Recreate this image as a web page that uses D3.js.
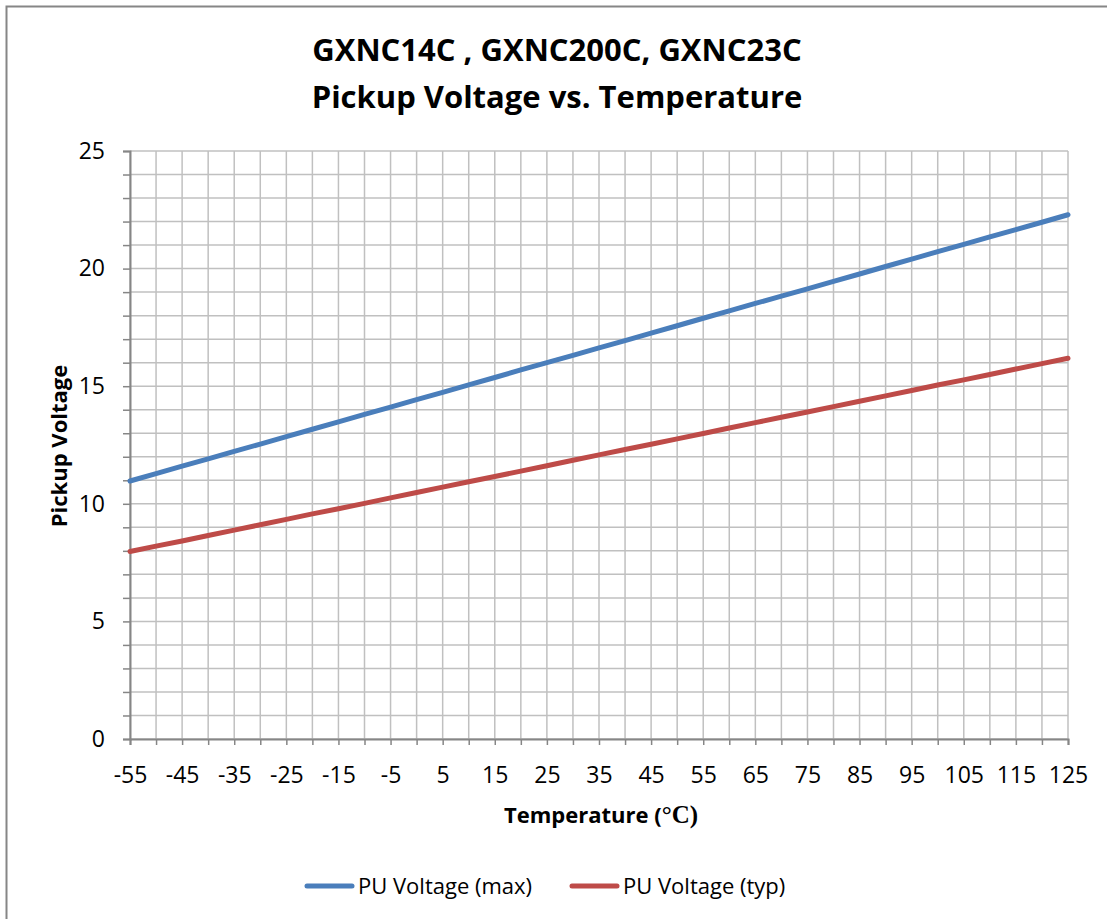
<!DOCTYPE html>
<html>
<head>
<meta charset="utf-8">
<script src="https://cdn.jsdelivr.net/npm/d3@7"></script>
<style>
html,body{margin:0;padding:0;background:#fff;}
svg{display:block;}
</style>
</head>
<body>
<svg id="chart" width="1107" height="919"></svg>
<script>
// ---- data ----
const temperatures = [-55,-50,-45,-40,-35,-30,-25,-20,-15,-10,-5,0,5,10,15,20,25,30,35,40,45,50,55,60,65,70,75,80,85,90,95,100,105,110,115,120,125];
const puMax = [10.97,11.28,11.60,11.91,12.23,12.54,12.86,13.17,13.48,13.80,14.11,14.43,14.74,15.06,15.37,15.69,16.00,16.31,16.63,16.94,17.26,17.57,17.89,18.20,18.52,18.83,19.14,19.46,19.77,20.09,20.40,20.72,21.03,21.35,21.66,21.97,22.29];
const puTyp = [7.97,8.20,8.42,8.65,8.88,9.11,9.34,9.57,9.79,10.02,10.25,10.48,10.71,10.94,11.16,11.39,11.62,11.85,12.08,12.31,12.53,12.76,12.99,13.22,13.45,13.68,13.90,14.13,14.36,14.59,14.82,15.05,15.27,15.50,15.73,15.96,16.19];
const yTickValues = [0,5,10,15,20,25];
const yMinorValues = [0,1,2,3,4,5,6,7,8,9,10,11,12,13,14,15,16,17,18,19,20,21,22,23,24,25];
const xLabelValues = [-55,-45,-35,-25,-15,-5,5,15,25,35,45,55,65,75,85,95,105,115,125];
const seriesNames = ["PU Voltage (max)","PU Voltage (typ)"];
const seriesColors = ["#4A7EBB","#BE4B48"];
const titleLines = ["GXNC14C , GXNC200C, GXNC23C","Pickup Voltage vs. Temperature"];

// ---- layout ----
const svg = d3.select("#chart");
const font = "'Open Sans', sans-serif";
const L = 130, R = 1068, T = 151, B = 739;

svg.append("rect").attr("x",6.5).attr("y",6.5).attr("width",1200).attr("height",1000)
  .attr("fill","#fff").attr("stroke","#868686").attr("stroke-width",2);

const x = d3.scaleLinear().domain([-55,125]).range([L,R]);
const y = d3.scaleLinear().domain([0,25]).range([B,T]);

// gridlines
const grid = svg.append("g");
grid.selectAll("line.h").data(yMinorValues).join("line")
  .attr("x1",L).attr("x2",R).attr("y1",d=>y(d)).attr("y2",d=>y(d))
  .attr("stroke","#C0C0C0").attr("stroke-width",1.5);
grid.selectAll("line.v").data(temperatures).join("line")
  .attr("x1",d=>x(d)).attr("x2",d=>x(d)).attr("y1",T).attr("y2",B)
  .attr("stroke","#C0C0C0").attr("stroke-width",1.5);

// y axis
const yAxis = svg.append("g").attr("transform",`translate(${L},0)`)
  .call(d3.axisLeft(y).tickValues(yMinorValues).tickSize(7).tickFormat(d=>yTickValues.includes(d)?d:""));
yAxis.select(".domain").attr("stroke","#868686").attr("stroke-width",2);
yAxis.selectAll(".tick line").attr("stroke","#868686").attr("stroke-width",1.5);
yAxis.selectAll(".tick text").attr("font-family",font).attr("font-size",23).attr("fill","#000").attr("x",-25);

// x axis
const xAxis = svg.append("g").attr("transform",`translate(0,${B})`)
  .call(d3.axisBottom(x).tickValues(temperatures).tickSize(6).tickFormat(d=>xLabelValues.includes(d)?d:""));
xAxis.select(".domain").attr("stroke","#868686").attr("stroke-width",2);
xAxis.selectAll(".tick line").attr("stroke","#868686").attr("stroke-width",1.5);
xAxis.selectAll(".tick text").attr("font-family",font).attr("font-size",23).attr("fill","#000").attr("y",28);

// lines
const lineGen = d3.line().x((d,i)=>x(temperatures[i])).y(d=>y(d));
[puMax,puTyp].forEach((s,k)=>{
  svg.append("path").datum(s).attr("d",lineGen).attr("fill","none")
    .attr("stroke",seriesColors[k]).attr("stroke-width",5).attr("stroke-linecap","round");
});

// title
titleLines.forEach((t,i)=>{
  svg.append("text").attr("x",557).attr("y",61+i*47).attr("text-anchor","middle")
    .attr("font-family",font).attr("font-weight","bold").attr("font-size",31).attr("fill","#000").text(t);
});

// axis titles
const xt = svg.append("text").attr("x",601).attr("y",823).attr("text-anchor","middle")
  .attr("font-family",font).attr("font-weight","bold").attr("font-size",22).attr("fill","#000");
xt.append("tspan").text("Temperature (");
xt.append("tspan").attr("font-family","'Liberation Serif', serif").attr("font-size",25).text("°C");
xt.append("tspan").attr("font-family","'Liberation Serif', serif").attr("font-size",25).text(")");

svg.append("text").attr("transform",`translate(67,${(T+B)/2+1}) rotate(-90)`).attr("text-anchor","middle")
  .attr("font-family",font).attr("font-weight","bold").attr("font-size",22).attr("fill","#000").text("Pickup Voltage");

// legend
const legendX = [305,570];
seriesNames.forEach((n,k)=>{
  const g = svg.append("g").attr("transform",`translate(${legendX[k]},886)`);
  g.append("line").attr("x1",2).attr("x2",47).attr("y1",0).attr("y2",0)
    .attr("stroke",seriesColors[k]).attr("stroke-width",5).attr("stroke-linecap","round");
  g.append("text").attr("x",53).attr("y",8).attr("font-family",font).attr("font-size",22).attr("fill","#000").text(n);
});
</script>
</body>
</html>
